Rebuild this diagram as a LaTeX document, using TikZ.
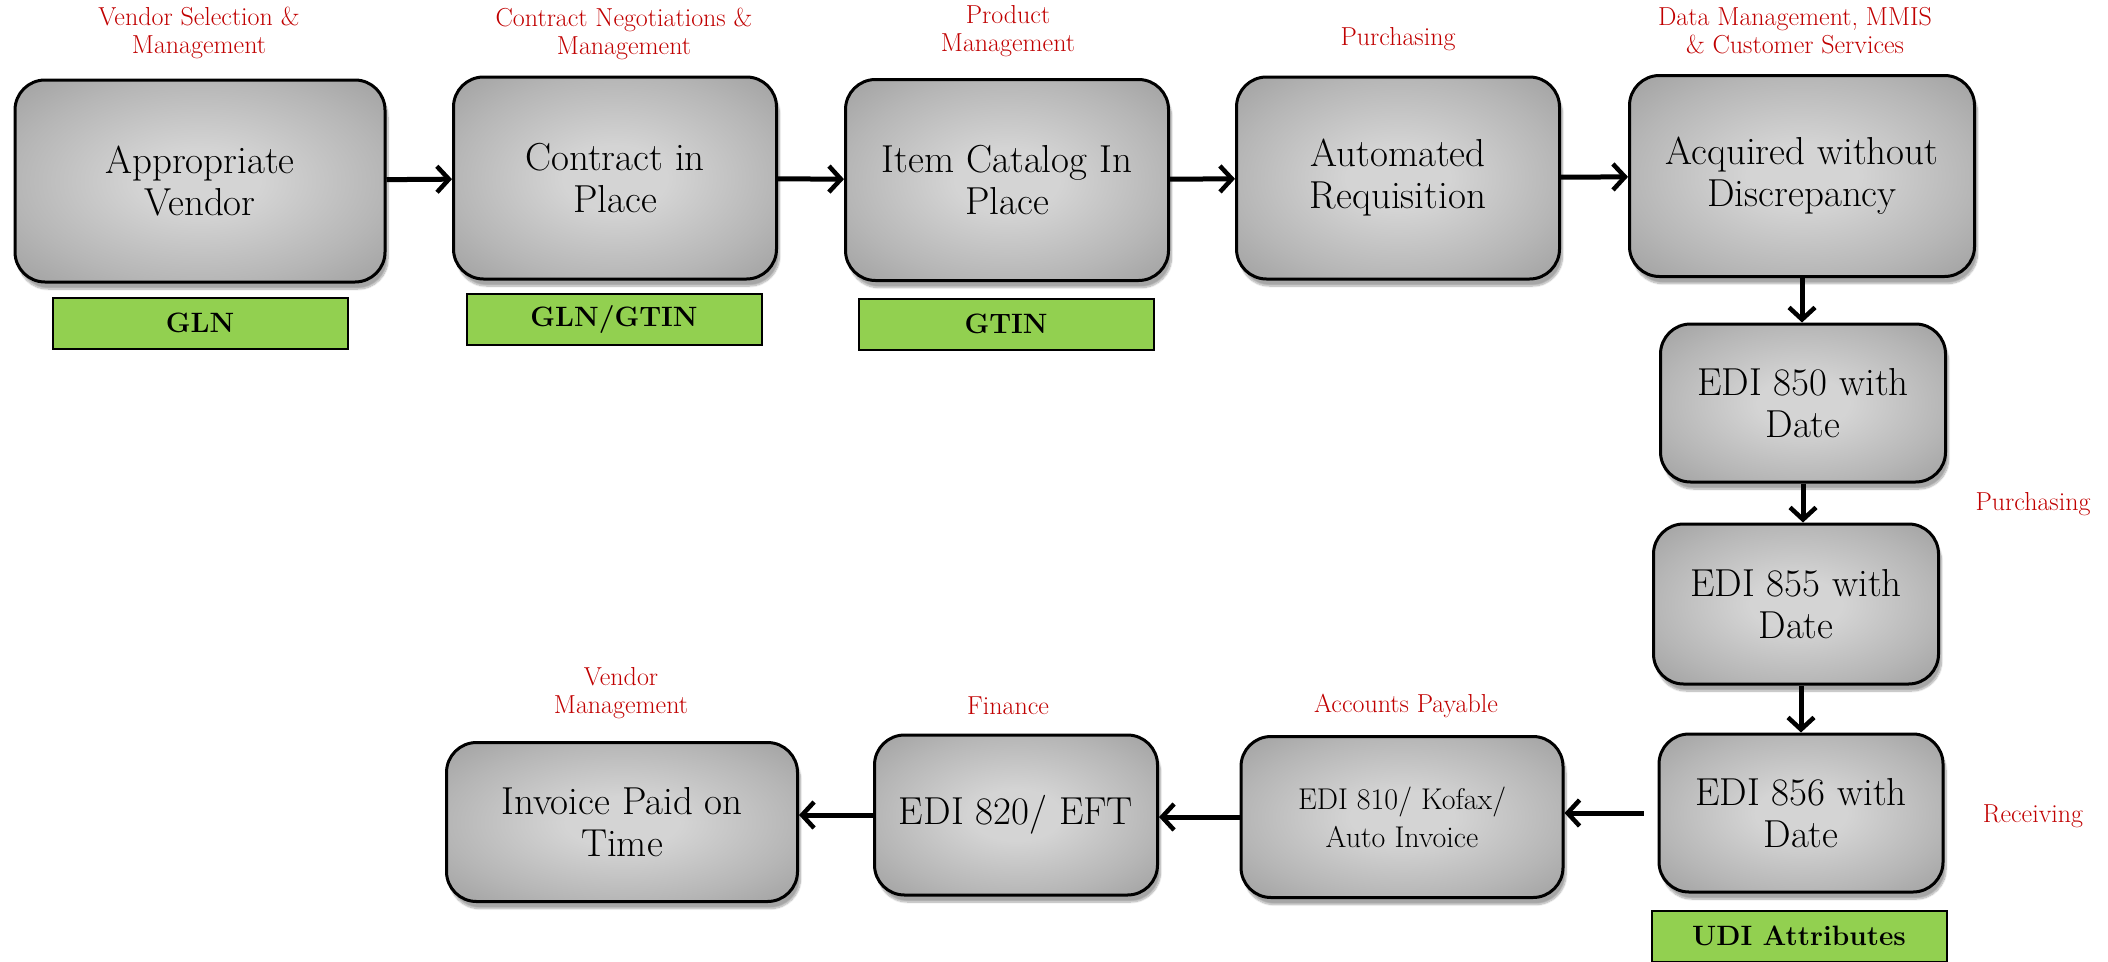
\documentclass[tikz,border=0pt]{standalone}
\usepackage{fontspec}
\usetikzlibrary{arrows.meta,shadows.blur}
\definecolor{boxin}{HTML}{D4D4D4}
\definecolor{boxmid}{HTML}{B6B6B6}
\definecolor{boxout}{HTML}{A0A0A0}
\definecolor{tagfill}{HTML}{92D050}
\definecolor{rolered}{HTML}{C00000}
\pgfdeclareradialshading{boxshade}{\pgfpoint{0bp}{0bp}}{%
  color(0bp)=(boxin); color(8bp)=(boxin); color(25bp)=(boxmid); color(36bp)=(boxout); color(50bp)=(boxout)}
\tikzset{
  stepbox/.style={draw=black, line width=3pt, rounded corners=30pt,
    shading=boxshade, align=center,
    font=\fontsize{39}{42}\selectfont,
    blur shadow={shadow xshift=3pt, shadow yshift=-7pt, shadow blur steps=10, shadow opacity=35}},
  tagbox/.style={draw=black, line width=2pt, fill=tagfill,
    minimum width=295pt, minimum height=51pt,
    font=\fontsize{28}{30}\selectfont\bfseries},
  role/.style={text=rolered, align=center, font=\fontsize{26}{28}\selectfont},
  flow/.style={line width=5pt, -{Straight Barb[length=12pt,width=26pt,line width=4.5pt]}},
}
\begin{document}
\begin{tikzpicture}[x=1pt,y=-1pt]
\useasboundingbox (0,0) rectangle (2108,961);

% process steps
\node[stepbox, minimum width=370pt, minimum height=202pt] (b1) at (200,181) {Appropriate\\Vendor};
\node[stepbox, minimum width=323pt, minimum height=202pt] (b2) at (615,178) {Contract in\\Place};
\node[stepbox, minimum width=323pt, minimum height=201pt] (b3) at (1007,180) {Item Catalog In\\Place};
\node[stepbox, minimum width=323pt, minimum height=202pt] (b4) at (1398,178) {Automated\\Requisition};
\node[stepbox, minimum width=345pt, minimum height=201pt] (b5) at (1802,176) {Acquired without\\Discrepancy};
\node[stepbox, minimum width=285pt, minimum height=158pt] (b6) at (1803,403) {EDI 850 with\\Date};
\node[stepbox, minimum width=285pt, minimum height=160pt] (b7) at (1796,604) {EDI 855 with\\Date};
\node[stepbox, minimum width=284pt, minimum height=158pt] (b8) at (1801,813) {EDI 856 with\\Date};
\node[stepbox, minimum width=322pt, minimum height=161pt, font=\fontsize{30}{38}\selectfont] (b9) at (1402,817) {EDI 810/ Kofax/\\Auto Invoice};
\node[stepbox, minimum width=283pt, minimum height=160pt] (b10) at (1016,815) {EDI 820/ EFT};
\node[stepbox, minimum width=351pt, minimum height=159pt] (b11) at (622,822) {Invoice Paid on\\Time};

% identifiers
\node[tagbox] (g1) at (200,323) {GLN};
\node[tagbox] (g2) at (614,319) {GLN/GTIN};
\node[tagbox] (g3) at (1006,324) {GTIN};
\node[tagbox] (g4) at (1799,936) {UDI Attributes};

% responsible departments
\node[role] (r1) at (199,33) {Vendor Selection \&\\Management};
\node[role] (r2) at (624,34) {Contract Negotiations \&\\Management};
\node[role] (r3) at (1008,31) {Product\\Management};
\node[role] (r4) at (1398,39) {Purchasing};
\node[role] (r5) at (1795,31) {Data Management, MMIS\\\& Customer Services};
\node[role] (r6) at (2033,504) {Purchasing};
\node[role] (r7) at (2033,816) {Receiving};
\node[role] (r8) at (1406,706) {Accounts Payable};
\node[role] (r9) at (1008,706) {Finance};
\node[role] (r10) at (621,693) {Vendor\\Management};

% flow
\draw[flow] (b1) -- (b2);
\draw[flow] (b2) -- (b3);
\draw[flow] (b3) -- (b4);
\draw[flow] (b4) -- (b5);
\draw[flow] (b5.south) -- (b5.south |- b6.north);
\draw[flow] (b6.south) -- (b6.south |- b7.north);
\draw[flow] (b8.north |- b7.south) -- (b8.north);
\draw[flow, shorten <=14pt] (b8.west) -- (b8.west -| b9.east);
\draw[flow] (b9.west) -- (b9.west -| b10.east);
\draw[flow] (b10.west) -- (b10.west -| b11.east);
\end{tikzpicture}
\end{document}
